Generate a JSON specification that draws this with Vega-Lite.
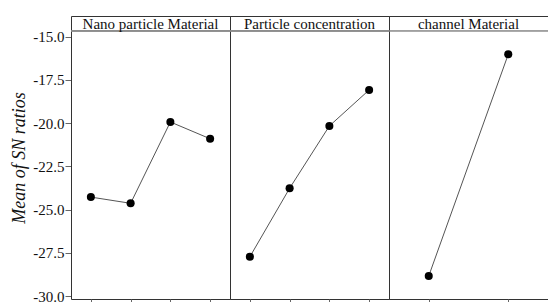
{
  "$schema": "https://vega.github.io/schema/vega-lite/v6.json",
  "padding": {"left": 10, "top": 15, "right": 0, "bottom": 0},
  "background": "white",
  "data": {"values": [
    {"factor": "Nano particle Material", "level": "1", "sn": -24.28},
    {"factor": "Nano particle Material", "level": "2", "sn": -24.64},
    {"factor": "Nano particle Material", "level": "3", "sn": -19.94},
    {"factor": "Nano particle Material", "level": "4", "sn": -20.91},
    {"factor": "Particle concentration", "level": "1", "sn": -27.73},
    {"factor": "Particle concentration", "level": "2", "sn": -23.77},
    {"factor": "Particle concentration", "level": "3", "sn": -20.17},
    {"factor": "Particle concentration", "level": "4", "sn": -18.09},
    {"factor": "channel Material", "level": "1", "sn": -28.84},
    {"factor": "channel Material", "level": "2", "sn": -16.03}
  ]},
  "facet": {
    "column": {
      "field": "factor",
      "type": "nominal",
      "sort": ["Nano particle Material", "Particle concentration", "channel Material"],
      "header": null
    }
  },
  "spacing": 0,
  "bounds": "flush",
  "resolve": {"scale": {"x": "independent"}, "axis": {"x": "independent"}},
  "spec": {
    "width": 159,
    "height": 283,
    "layer": [
      {
        "mark": {"type": "rule", "color": "#888888", "strokeWidth": 1},
        "encoding": {"y": {"datum": -14.68, "type": "quantitative"}}
      },
      {
        "transform": [{"aggregate": [{"op": "count", "as": "n"}], "groupby": ["factor"]}],
        "mark": {"type": "text", "font": "Times New Roman, Liberation Serif, serif", "fontSize": 15, "color": "#111111", "baseline": "middle", "align": "center"},
        "encoding": {
          "y": {"datum": -14.25, "type": "quantitative"},
          "text": {"field": "factor", "type": "nominal"}
        }
      },
      {
        "mark": {"type": "line", "color": "#555555", "strokeWidth": 1},
        "encoding": {
          "x": {"field": "level", "type": "ordinal"},
          "y": {"field": "sn", "type": "quantitative"}
        }
      },
      {
        "mark": {"type": "point", "filled": true, "color": "#000000", "size": 65, "opacity": 1},
        "encoding": {
          "x": {
            "field": "level",
            "type": "ordinal",
            "scale": {"type": "point", "padding": 0.5},
            "axis": {"labels": false, "title": null, "domain": false, "ticks": true, "tickSize": 4, "tickColor": "#666666", "grid": false}
          },
          "y": {
            "field": "sn",
            "type": "quantitative",
            "scale": {"domain": [-30.17, -13.815], "nice": false, "zero": false},
            "axis": {
              "values": [-30, -27.5, -25, -22.5, -20, -17.5, -15],
              "labelExpr": "replace(format(datum.value, '.1f'), '\u2212', '-')",
              "title": "Mean of SN ratios",
              "titleFont": "Times New Roman, Liberation Serif, serif",
              "titleFontStyle": "italic",
              "titleFontWeight": "normal",
              "titleFontSize": 18,
              "titleColor": "#111111",
              "titlePadding": 4,
              "labelFont": "Times New Roman, Liberation Serif, serif",
              "labelFontSize": 15,
              "labelColor": "#111111",
              "labelPadding": 1,
              "tickSize": 6,
              "tickColor": "#666666",
              "domain": false,
              "grid": false
            }
          }
        }
      }
    ]
  },
  "config": {
    "view": {"stroke": "#333333", "strokeWidth": 1}
  }
}
